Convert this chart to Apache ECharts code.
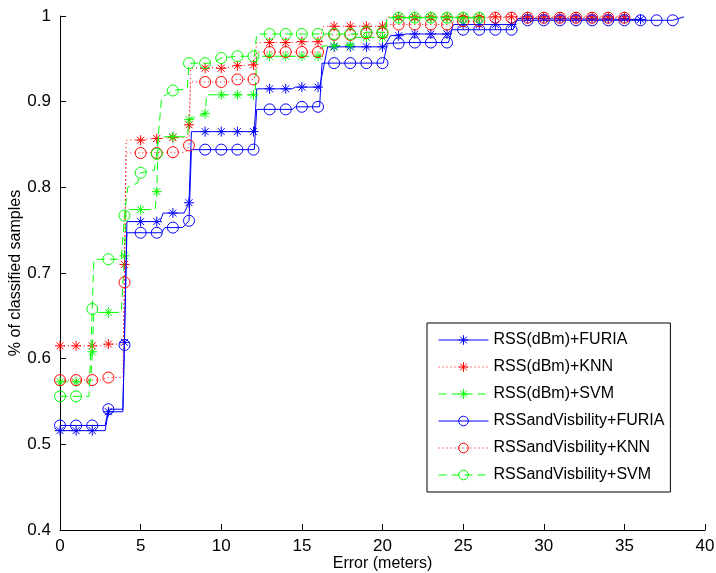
<!DOCTYPE html>
<html>
<head>
<meta charset="utf-8">
<script src="https://cdn.jsdelivr.net/npm/echarts@6/dist/echarts.min.js"></script>
<style>
  html, body { margin: 0; padding: 0; background: #fff; }
  #chart { width: 716px; height: 573px; }
</style>
</head>
<body>
<div id="chart"></div>
<script>
// tick values
const xTicks = [0, 5, 10, 15, 20, 25, 30, 35, 40];
const yTicks = [0.4, 0.5, 0.6, 0.7, 0.8, 0.9, 1];

const seriesNames = [
  "RSS(dBm)+FURIA",
  "RSS(dBm)+KNN",
  "RSS(dBm)+SVM",
  "RSSandVisbility+FURIA",
  "RSSandVisbility+KNN",
  "RSSandVisbility+SVM",
];

// marker values at every metre (index = error in metres)
const rssFuriaMarks = [0.516, 0.516, 0.516, 0.538, 0.619, 0.760, 0.760, 0.770, 0.782, 0.865, 0.865, 0.865, 0.865,
  0.915, 0.915, 0.917, 0.917, 0.964, 0.964, 0.964, 0.964, 0.977, 0.979, 0.979, 0.979, 0.990, 0.990, 0.990, 0.990,
  0.997, 0.997, 0.997, 0.997, 0.997, 0.997, 0.997, 0.996];
const rssKnnMarks = [0.615, 0.615, 0.615, 0.617, 0.710, 0.855, 0.857, 0.858, 0.873, 0.939, 0.939, 0.942, 0.943,
  0.969, 0.969, 0.970, 0.970, 0.988, 0.988, 0.988, 0.988, 0.999, 0.999, 0.999, 0.999, 0.999, 0.999, 0.999, 0.999,
  0.999, 0.999, 0.999, 0.999, 0.999, 0.999, 0.999];
const rssSvmMarks = [0.573, 0.573, 0.608, 0.654, 0.720, 0.774, 0.795, 0.859, 0.879, 0.886, 0.908, 0.908, 0.908,
  0.953, 0.953, 0.953, 0.953, 0.965, 0.966, 0.975, 0.975, 0.998, 0.998, 0.998, 0.998, 0.998, 0.998];
const visFuriaMarks = [0.522, 0.522, 0.522, 0.541, 0.616, 0.747, 0.747, 0.753, 0.761, 0.844, 0.844, 0.844, 0.844,
  0.891, 0.891, 0.894, 0.894, 0.945, 0.945, 0.945, 0.945, 0.968, 0.969, 0.969, 0.969, 0.984, 0.984, 0.984, 0.984,
  0.995, 0.995, 0.995, 0.995, 0.995, 0.995, 0.995, 0.995, 0.995, 0.995];
const visKnnMarks = [0.575, 0.575, 0.575, 0.578, 0.689, 0.840, 0.840, 0.841, 0.849, 0.923, 0.923, 0.926, 0.926,
  0.958, 0.958, 0.958, 0.958, 0.978, 0.978, 0.980, 0.980, 0.990, 0.990, 0.990, 0.990, 0.994, 0.994, 0.998, 0.998,
  0.998, 0.998, 0.998, 0.998, 0.998, 0.998, 0.998];
const visSvmMarks = [0.556, 0.556, 0.658, 0.716, 0.767, 0.817, 0.839, 0.913, 0.945, 0.945, 0.951, 0.953, 0.953,
  0.979, 0.979, 0.979, 0.979, 0.979, 0.979, 0.981, 0.981, 0.998, 0.998, 0.998, 0.998, 0.998, 0.998];

// corners of the step curves [error, fraction]
const rssFuriaLine = [[0, 0.516], [2.8, 0.516], [3, 0.538], [3.9, 0.538], [4.15, 0.760], [6.2, 0.760], [6.4, 0.770],
  [7.7, 0.770], [8, 0.782], [8.15, 0.865], [12.05, 0.865], [12.2, 0.915], [14.4, 0.915], [14.6, 0.917], [16.1, 0.917],
  [16.6, 0.964], [20.1, 0.964], [20.5, 0.977], [21.5, 0.979], [24.2, 0.979], [24.4, 0.990], [28.2, 0.990],
  [28.4, 0.997], [36, 0.996]];
const rssKnnLine = [[0, 0.615], [2.5, 0.615], [3, 0.617], [3.95, 0.617], [4.1, 0.855], [6, 0.857], [7, 0.858],
  [7.9, 0.858], [8, 0.873], [8.1, 0.939], [10.5, 0.940], [11, 0.942], [12.05, 0.943], [12.2, 0.969], [14.5, 0.969],
  [15, 0.970], [16.1, 0.970], [16.3, 0.988], [20.1, 0.988], [20.3, 0.999], [35, 0.999]];
const rssSvmLine = [[0, 0.573], [1.9, 0.573], [2, 0.608], [2.1, 0.654], [3.8, 0.654], [4, 0.720], [4.1, 0.774],
  [5.9, 0.774], [6, 0.795], [6.1, 0.859], [7.9, 0.859], [8, 0.879], [9, 0.886], [9.1, 0.908], [12.1, 0.908],
  [12.2, 0.953], [16.1, 0.953], [16.3, 0.965], [18.1, 0.966], [18.3, 0.975], [20.1, 0.975], [20.3, 0.998], [26, 0.998]];
const visFuriaLine = [[0, 0.522], [2.8, 0.522], [3, 0.541], [3.9, 0.541], [4.15, 0.747], [6.3, 0.747], [6.5, 0.753],
  [7.6, 0.753], [8, 0.761], [8.15, 0.844], [12.05, 0.844], [12.2, 0.891], [14.4, 0.891], [14.6, 0.894], [16.1, 0.894],
  [16.25, 0.945], [20.05, 0.945], [20.3, 0.968], [21.5, 0.969], [24.1, 0.969], [24.3, 0.984], [28.1, 0.984],
  [28.3, 0.995], [38, 0.995], [38.7, 0.999]];
const visKnnLine = [[0, 0.575], [2.5, 0.575], [3, 0.578], [3.9, 0.578], [4.1, 0.840], [7, 0.841], [7.8, 0.841],
  [8, 0.849], [8.1, 0.923], [10.5, 0.923], [11, 0.926], [12.05, 0.926], [12.2, 0.958], [16.1, 0.958], [16.3, 0.978],
  [18.5, 0.978], [19, 0.980], [20.1, 0.980], [20.3, 0.990], [24.1, 0.990], [24.3, 0.994], [26.1, 0.994],
  [26.3, 0.998], [35, 0.998]];
const visSvmLine = [[0, 0.556], [1.8, 0.556], [2, 0.658], [2.1, 0.716], [3.8, 0.716], [4, 0.767], [4.2, 0.800],
  [4.8, 0.805], [5, 0.817], [5.85, 0.820], [6, 0.839], [6.3, 0.905], [7, 0.913], [7.9, 0.915], [8, 0.945],
  [9.5, 0.945], [10, 0.951], [11, 0.953], [12.05, 0.953], [12.2, 0.979], [18.5, 0.979], [19, 0.981], [20.1, 0.981],
  [20.3, 0.998], [26, 0.998]];

const FONT = "'Liberation Sans', Arial, Helvetica, sans-serif";
const BLUE = "#0000ff";
const RED = "#ff0000";
const GREEN = "#00ff00";
// matlab style '*' marker
const STAR = "path://M5,0L5,10M0,5L10,5M1.5,1.5L8.5,8.5M1.5,8.5L8.5,1.5";

const styles = [
  { color: BLUE, type: "solid", symbol: STAR, size: 10 },
  { color: RED, type: [1, 3], symbol: STAR, size: 10 },
  { color: GREEN, type: [8, 5], symbol: STAR, size: 10 },
  { color: BLUE, type: "solid", symbol: "circle", size: 11 },
  { color: RED, type: [1, 3], symbol: "circle", size: 11 },
  { color: GREEN, type: [8, 5], symbol: "circle", size: 11 },
];
const lines = [rssFuriaLine, rssKnnLine, rssSvmLine, visFuriaLine, visKnnLine, visSvmLine];
const marks = [rssFuriaMarks, rssKnnMarks, rssSvmMarks, visFuriaMarks, visKnnMarks, visSvmMarks];

const chart = echarts.init(document.getElementById("chart"));

const series = [];
seriesNames.forEach((name, i) => {
  const s = styles[i];
  series.push({
    name: name,
    type: "line",
    data: lines[i],
    symbol: s.symbol,
    showSymbol: false,
    lineStyle: { color: s.color, width: 1, type: s.type },
    itemStyle: { color: "rgba(0,0,0,0)", borderColor: s.color, borderWidth: 1 },
    z: 2 + i,
  });
  series.push({
    name: name + " marks",
    type: "scatter",
    data: marks[i].map((v, x) => [x, v]),
    symbol: s.symbol,
    symbolSize: s.size,
    itemStyle: { color: "rgba(0,0,0,0)", borderColor: s.color, borderWidth: 1, opacity: 1 },
    z: 2 + i,
  });
});

const option = {
  animation: false,
  textStyle: { fontFamily: FONT },
  grid: { left: 60, right: 11, top: 16, bottom: 43, containLabel: false, outerBoundsMode: "none" },
  legend: {
    orient: "vertical",
    left: 427,
    top: 323,
    padding: [7, 6, 7, 11],
    borderColor: "#000",
    borderWidth: 1,
    borderRadius: 0,
    backgroundColor: "#fff",
    itemWidth: 50,
    itemHeight: 12,
    itemGap: 7,
    selectedMode: false,
    lineStyle: { width: 1 },
    textStyle: { fontFamily: FONT, fontSize: 16, color: "#000", lineHeight: 20 },
    data: seriesNames.map((name, i) => ({
      name: name,
      itemStyle: { color: "rgba(0,0,0,0)", borderColor: styles[i].color, borderWidth: 1 },
    })),
  },
  xAxis: {
    type: "value",
    min: xTicks[0],
    max: xTicks[xTicks.length - 1],
    interval: xTicks[1] - xTicks[0],
    name: "Error (meters)",
    nameLocation: "middle",
    nameGap: 26,
    nameMoveOverlap: false,
    nameTextStyle: { fontFamily: FONT, fontSize: 16, color: "#000" },
    axisLine: { lineStyle: { color: "#000", width: 1 } },
    axisTick: { inside: true, length: 6, lineStyle: { color: "#000" } },
    axisLabel: { fontFamily: FONT, fontSize: 17, color: "#000", margin: 8 },
    splitLine: { show: false },
  },
  yAxis: {
    type: "value",
    min: yTicks[0],
    max: yTicks[yTicks.length - 1],
    interval: 0.1,
    name: "% of classified samples",
    nameLocation: "middle",
    nameGap: 36,
    nameMoveOverlap: false,
    nameTextStyle: { fontFamily: FONT, fontSize: 16, color: "#000" },
    axisLine: { show: true, lineStyle: { color: "#000", width: 1 } },
    axisTick: { show: true, inside: true, length: 6, lineStyle: { color: "#000" } },
    axisLabel: { fontFamily: FONT, fontSize: 17, color: "#000", margin: 9 },
    splitLine: { show: false },
  },
  series: series,
};

chart.setOption(option);
</script>
</body>
</html>
